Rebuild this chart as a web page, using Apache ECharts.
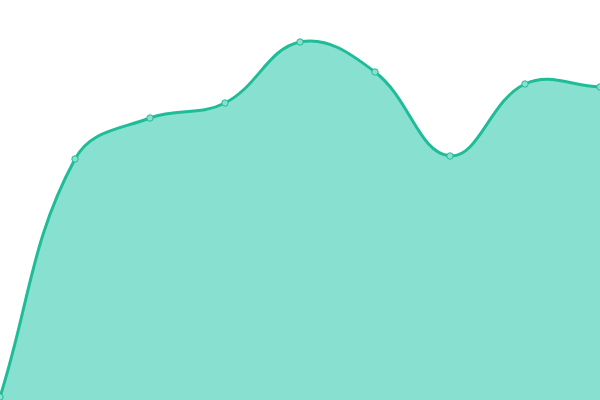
<!DOCTYPE html>
<html><head><meta charset="utf-8">
<script src="https://cdn.jsdelivr.net/npm/echarts@6/dist/echarts.min.js"></script>
<style>html,body{margin:0;padding:0;background:#fff}#c{width:600px;height:400px}</style>
</head><body><div id="c"></div>
<script>
const categories = ['1','2','3','4','5','6','7','8','9'];
const values = [3, 241, 282, 297, 358, 328, 244, 316, 313];
const TENSION = 0.4;
const LINE = '#1fbc98', AREA = '#88e0d0', DOT = '#8ae0cf';

function buildPaths(api) {
  const pts = values.map((v, i) => api.coord([i, v]));
  const n = pts.length;
  const cps = pts.map((p, i) => {
    const prev = pts[i - 1] || p, next = pts[i + 1] || p;
    const d01 = Math.hypot(p[0] - prev[0], p[1] - prev[1]);
    const d12 = Math.hypot(next[0] - p[0], next[1] - p[1]);
    let s01 = d01 / (d01 + d12), s12 = d12 / (d01 + d12);
    if (isNaN(s01)) s01 = 0; if (isNaN(s12)) s12 = 0;
    const fa = TENSION * s01, fb = TENSION * s12;
    return {
      prev: [p[0] - fa * (next[0] - prev[0]), p[1] - fa * (next[1] - prev[1])],
      next: [p[0] + fb * (next[0] - prev[0]), p[1] + fb * (next[1] - prev[1])]
    };
  });
  let d = 'M' + pts[0][0] + ' ' + pts[0][1];
  for (let i = 1; i < n; i++) {
    const a = cps[i - 1].next, b = cps[i].prev, p = pts[i];
    d += ' C' + a[0] + ' ' + a[1] + ' ' + b[0] + ' ' + b[1] + ' ' + p[0] + ' ' + p[1];
  }
  const base = api.coord([0, 0])[1];
  const area = d + ' L' + pts[n - 1][0] + ' ' + base + ' L' + pts[0][0] + ' ' + base + ' Z';
  return {line: d, area: area};
}

const chart = echarts.init(document.getElementById('c'));
chart.setOption({
  animation: false,
  grid: {left: 0, right: 0, top: 0, bottom: 0},
  xAxis: {type: 'category', data: categories, boundaryGap: false, show: false},
  yAxis: {type: 'value', min: 0, max: 400, show: false},
  series: [{
    type: 'custom',
    data: values.map((v, i) => [i, v]),
    encode: {x: 0, y: 1},
    clip: false,
    renderItem: function (params, api) {
      const i = params.dataIndex;
      const p = api.coord([i, values[i]]);
      const children = [];
      if (i === 0) {
        const paths = buildPaths(api);
        children.push({type: 'path', z2: 1, shape: {pathData: paths.area}, style: {fill: AREA, stroke: null}});
        children.push({type: 'path', z2: 2, shape: {pathData: paths.line}, style: {fill: null, stroke: LINE, lineWidth: 3}});
      }
      children.push({type: 'circle', z2: 10, shape: {cx: p[0], cy: p[1], r: 3.2}, style: {fill: DOT, stroke: LINE, lineWidth: 1}});
      return {type: 'group', children: children};
    }
  }]
});
</script></body></html>
